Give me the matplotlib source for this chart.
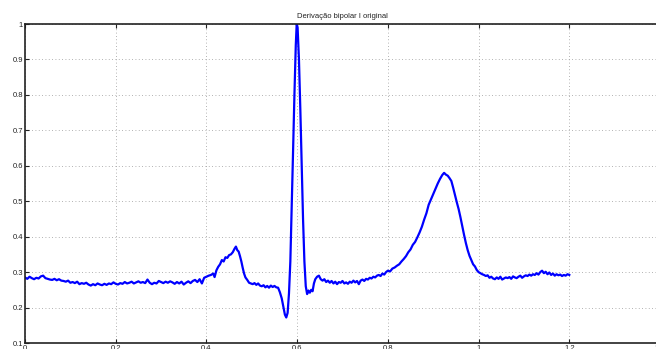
import matplotlib
matplotlib.use("Agg")
import matplotlib.pyplot as plt

# ECG lead I samples (time in s, normalised amplitude)
time_s = [
    0.000, 0.005, 0.010, 0.015, 0.020, 0.025, 0.030, 0.035, 0.040, 0.045,
    0.050, 0.055, 0.060, 0.065, 0.070, 0.075, 0.080, 0.085, 0.090, 0.095,
    0.100, 0.105, 0.110, 0.115, 0.120, 0.125, 0.130, 0.135, 0.140, 0.145,
    0.150, 0.155, 0.160, 0.165, 0.170, 0.175, 0.180, 0.185, 0.190, 0.195,
    0.200, 0.205, 0.210, 0.215, 0.220, 0.225, 0.230, 0.235, 0.240, 0.245,
    0.250, 0.255, 0.260, 0.265, 0.270, 0.275, 0.280, 0.285, 0.290, 0.295,
    0.300, 0.305, 0.310, 0.315, 0.320, 0.325, 0.330, 0.335, 0.340, 0.345,
    0.350, 0.355, 0.360, 0.365, 0.370, 0.375, 0.380, 0.385, 0.390, 0.395,
    0.400, 0.405, 0.410, 0.415, 0.418, 0.422, 0.426, 0.430, 0.434, 0.438,
    0.442, 0.446, 0.450, 0.454, 0.458, 0.462, 0.465, 0.468, 0.471, 0.474,
    0.477, 0.480, 0.483, 0.486, 0.490, 0.494, 0.498, 0.502, 0.506, 0.510,
    0.514, 0.518, 0.522, 0.526, 0.530, 0.534, 0.538, 0.542, 0.546, 0.550,
    0.554, 0.558, 0.562, 0.566, 0.570, 0.573, 0.576, 0.579, 0.582, 0.585,
    0.588, 0.591, 0.594, 0.597, 0.599, 0.601, 0.604, 0.607, 0.610, 0.613,
    0.616, 0.619, 0.622, 0.625, 0.628, 0.631, 0.634, 0.637, 0.640, 0.644,
    0.648, 0.652, 0.656, 0.660, 0.664, 0.668, 0.672, 0.676, 0.680, 0.684,
    0.688, 0.692, 0.696, 0.700, 0.704, 0.708, 0.712, 0.716, 0.720, 0.724,
    0.728, 0.732, 0.736, 0.740, 0.744, 0.748, 0.752, 0.756, 0.760, 0.764,
    0.768, 0.772, 0.776, 0.780, 0.784, 0.788, 0.792, 0.796, 0.800, 0.805,
    0.810, 0.815, 0.820, 0.825, 0.830, 0.835, 0.840, 0.845, 0.850, 0.855,
    0.860, 0.865, 0.870, 0.875, 0.880, 0.885, 0.890, 0.895, 0.900, 0.905,
    0.910, 0.915, 0.920, 0.924, 0.928, 0.932, 0.936, 0.940, 0.944, 0.948,
    0.952, 0.956, 0.960, 0.964, 0.968, 0.972, 0.976, 0.980, 0.984, 0.988,
    0.992, 0.996, 1.000, 1.004, 1.008, 1.012, 1.016, 1.020, 1.024, 1.028,
    1.032, 1.036, 1.040, 1.044, 1.048, 1.052, 1.056, 1.060, 1.064, 1.068,
    1.072, 1.076, 1.080, 1.084, 1.088, 1.092, 1.096, 1.100, 1.104, 1.108,
    1.112, 1.116, 1.120, 1.124, 1.128, 1.132, 1.136, 1.140, 1.144, 1.148,
    1.152, 1.156, 1.160, 1.164, 1.168, 1.172, 1.176, 1.180, 1.184, 1.188,
    1.192, 1.196, 1.200,
]

amplitude = [
    0.285, 0.281, 0.287, 0.283, 0.280, 0.284, 0.282, 0.288, 0.290, 0.283,
    0.281, 0.279, 0.278, 0.281, 0.277, 0.280, 0.276, 0.275, 0.273, 0.276,
    0.270, 0.272, 0.269, 0.273, 0.266, 0.269, 0.267, 0.270, 0.265, 0.262,
    0.266, 0.263, 0.268, 0.265, 0.263, 0.267, 0.264, 0.268, 0.266, 0.271,
    0.267, 0.265, 0.269, 0.267, 0.272, 0.268, 0.270, 0.273, 0.268, 0.271,
    0.274, 0.270, 0.272, 0.269, 0.279, 0.270, 0.266, 0.270, 0.268, 0.275,
    0.272, 0.269, 0.273, 0.270, 0.274, 0.271, 0.267, 0.272, 0.268, 0.273,
    0.265, 0.270, 0.274, 0.269, 0.275, 0.278, 0.272, 0.280, 0.268, 0.284,
    0.287, 0.290, 0.292, 0.296, 0.286, 0.305, 0.315, 0.322, 0.334, 0.330,
    0.342, 0.340, 0.348, 0.350, 0.356, 0.366, 0.372, 0.362, 0.358, 0.345,
    0.330, 0.312, 0.296, 0.285, 0.278, 0.270, 0.268, 0.266, 0.269, 0.264,
    0.268, 0.262, 0.260, 0.263, 0.257, 0.261, 0.256, 0.262, 0.258, 0.261,
    0.257, 0.256, 0.243, 0.226, 0.200, 0.180, 0.172, 0.185, 0.240, 0.330,
    0.480, 0.640, 0.800, 0.940, 1.000, 0.990, 0.900, 0.760, 0.600, 0.450,
    0.330, 0.260, 0.238, 0.248, 0.242, 0.250, 0.246, 0.268, 0.280, 0.287,
    0.290, 0.280, 0.276, 0.280, 0.272, 0.276, 0.270, 0.275, 0.268, 0.273,
    0.266, 0.272, 0.270, 0.275, 0.268, 0.271, 0.267, 0.273, 0.270, 0.276,
    0.271, 0.275, 0.266, 0.276, 0.279, 0.275, 0.281, 0.279, 0.284, 0.282,
    0.287, 0.285, 0.290, 0.292, 0.289, 0.296, 0.293, 0.300, 0.304, 0.302,
    0.310, 0.313, 0.318, 0.322, 0.330, 0.337, 0.345, 0.356, 0.364, 0.377,
    0.385, 0.398, 0.412, 0.428, 0.448, 0.466, 0.490, 0.505, 0.520, 0.535,
    0.550, 0.563, 0.574, 0.580, 0.575, 0.572, 0.565, 0.557, 0.538, 0.517,
    0.497, 0.478, 0.455, 0.430, 0.405, 0.382, 0.362, 0.346, 0.334, 0.322,
    0.316, 0.306, 0.300, 0.297, 0.294, 0.292, 0.289, 0.291, 0.284, 0.287,
    0.282, 0.280, 0.285, 0.281, 0.287, 0.279, 0.282, 0.285, 0.283, 0.286,
    0.281, 0.288, 0.285, 0.283, 0.287, 0.290, 0.284, 0.288, 0.291, 0.289,
    0.293, 0.290, 0.294, 0.292, 0.297, 0.293, 0.300, 0.304, 0.297, 0.301,
    0.294, 0.299, 0.292, 0.296, 0.290, 0.294, 0.291, 0.293, 0.289, 0.292,
    0.290, 0.294, 0.292,
]

x_ticks = [0, 0.2, 0.4, 0.6, 0.8, 1.0, 1.2, 1.4]
x_tick_labels = ["0", "0.2", "0.4", "0.6", "0.8", "1", "1.2", "1.4"]
y_ticks = [0.1, 0.2, 0.3, 0.4, 0.5, 0.6, 0.7, 0.8, 0.9, 1.0]
y_tick_labels = ["0.1", "0.2", "0.3", "0.4", "0.5", "0.6", "0.7", "0.8", "0.9", "1"]

plt.rcParams["font.family"] = ["Liberation Sans", "DejaVu Sans"]

fig = plt.figure(figsize=(6.56, 3.49), dpi=100)
ax = fig.add_axes([25 / 656, 6 / 349, 635 / 656, 319 / 349])

ax.plot(time_s, amplitude, color="#0000ff", linewidth=1.6)

ax.set_xlim(0, 1.4)
ax.set_ylim(0.1, 1.0)
ax.set_xticks(x_ticks)
ax.set_xticklabels(x_tick_labels)
ax.set_yticks(y_ticks)
ax.set_yticklabels(y_tick_labels)

ax.grid(True, color="#999999", linestyle=(0, (1, 3)), linewidth=0.6)
ax.tick_params(direction="in", length=3, width=0.8, top=True, right=True,
               labelsize=5.5, pad=1.5, colors="#222222")
for spine in ax.spines.values():
    spine.set_linewidth(1.2)
    spine.set_color("#222222")

ax.set_title("Derivação bipolar I original", fontsize=5.5, pad=4, color="#222222")

fig.savefig("out.png", dpi=100)
